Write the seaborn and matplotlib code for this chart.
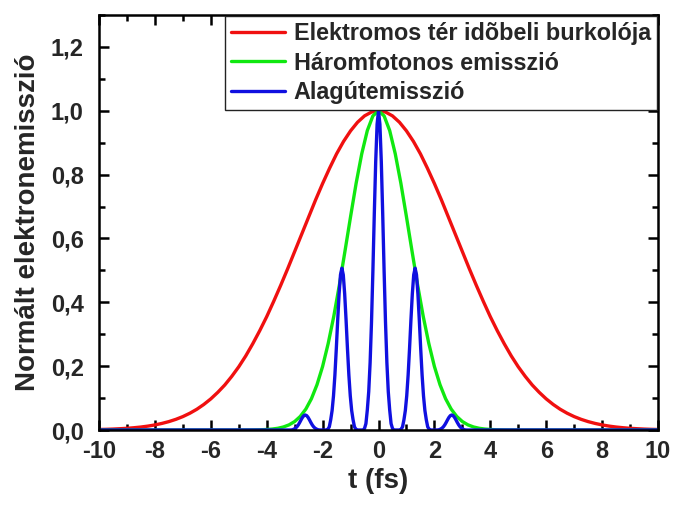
import matplotlib
matplotlib.use("Agg")
import matplotlib.pyplot as plt
from matplotlib.ticker import MultipleLocator, FuncFormatter
import seaborn as sns
import pandas as pd

# ---------------- data ----------------
red_t = [-10.0, -9.75, -9.5, -9.25, -9.0, -8.75, -8.5, -8.25, -8.0, -7.75, -7.5, -7.25,
         -7.0, -6.75, -6.5, -6.25, -6.0, -5.75, -5.5, -5.25, -5.0, -4.75, -4.5, -4.25,
         -4.0, -3.75, -3.5, -3.25, -3.0, -2.75, -2.5, -2.25, -2.0, -1.75, -1.5, -1.25,
         -1.0, -0.75, -0.5, -0.25, 0.0, 0.25, 0.5, 0.75, 1.0, 1.25, 1.5, 1.75, 2.0, 2.25,
         2.5, 2.75, 3.0, 3.25, 3.5, 3.75, 4.0, 4.25, 4.5, 4.75, 5.0, 5.25, 5.5, 5.75,
         6.0, 6.25, 6.5, 6.75, 7.0, 7.25, 7.5, 7.75, 8.0, 8.25, 8.5, 8.75, 9.0, 9.25,
         9.5, 9.75, 10.0]
red_y = [0.0016, 0.0021, 0.0029, 0.0040, 0.0053, 0.0071, 0.0093, 0.0122, 0.0159, 0.0206,
         0.0263, 0.0334, 0.042, 0.0525, 0.065, 0.080, 0.0975, 0.118, 0.141, 0.168, 0.198,
         0.232, 0.270, 0.311, 0.355, 0.403, 0.453, 0.505, 0.559, 0.613, 0.667, 0.721,
         0.772, 0.820, 0.865, 0.904, 0.937, 0.964, 0.984, 0.996, 1.000, 0.996, 0.984,
         0.964, 0.937, 0.904, 0.865, 0.820, 0.772, 0.721, 0.667, 0.613, 0.559, 0.505,
         0.453, 0.403, 0.355, 0.311, 0.270, 0.232, 0.198, 0.168, 0.141, 0.118, 0.0975,
         0.080, 0.065, 0.0525, 0.042, 0.0334, 0.0263, 0.0206, 0.0159, 0.0122, 0.0093,
         0.0071, 0.0053, 0.0040, 0.0029, 0.0021, 0.0016]

green_t = [-10.0, -5.0, -4.8, -4.6, -4.4, -4.2, -4.0, -3.8, -3.6, -3.4, -3.2, -3.0, -2.8,
           -2.6, -2.4, -2.2, -2.0, -1.8, -1.6, -1.4, -1.2, -1.0, -0.8, -0.6, -0.4, -0.2,
           0.0, 0.2, 0.4, 0.6, 0.8, 1.0, 1.2, 1.4, 1.6, 1.8, 2.0, 2.2, 2.4, 2.6, 2.8, 3.0,
           3.2, 3.4, 3.6, 3.8, 4.0, 4.2, 4.4, 4.6, 4.8, 5.0, 10.0]
green_y = [0.0, 0.0, 0.0001, 0.0002, 0.0004, 0.0008, 0.0016, 0.0030, 0.0054, 0.0095,
           0.0161, 0.0265, 0.0424, 0.0655, 0.098, 0.142, 0.199, 0.271, 0.356, 0.454,
           0.560, 0.668, 0.773, 0.865, 0.938, 0.984, 1.0, 0.984, 0.938, 0.865, 0.773,
           0.668, 0.560, 0.454, 0.356, 0.271, 0.199, 0.142, 0.098, 0.0655, 0.0424,
           0.0265, 0.0161, 0.0095, 0.0054, 0.0030, 0.0016, 0.0008, 0.0004, 0.0002,
           0.0001, 0.0, 0.0]

blue_t = [-10.0,
          -3.17, -3.12, -3.07, -3.02, -2.97, -2.92, -2.87, -2.82, -2.77, -2.72, -2.67, -2.62,
          -2.57, -2.52, -2.47, -2.42, -2.37, -2.32, -2.27, -2.22, -2.17, -2.12, -2.07,
          -1.86, -1.81, -1.76, -1.71, -1.66, -1.61, -1.56, -1.51, -1.46, -1.41, -1.36, -1.31,
          -1.26, -1.21, -1.16, -1.11, -1.06, -1.01, -0.96, -0.91, -0.86, -0.81, -0.76,
          -0.55, -0.50, -0.45, -0.40, -0.35, -0.30, -0.25, -0.20, -0.15, -0.10, -0.05, 0.00,
          0.05, 0.10, 0.15, 0.20, 0.25, 0.30, 0.35, 0.40, 0.45, 0.50, 0.55,
          0.76, 0.81, 0.86, 0.91, 0.96, 1.01, 1.06, 1.11, 1.16, 1.21, 1.26, 1.31,
          1.36, 1.41, 1.46, 1.51, 1.56, 1.61, 1.66, 1.71, 1.76, 1.81, 1.86,
          2.07, 2.12, 2.17, 2.22, 2.27, 2.32, 2.37, 2.42, 2.47, 2.52, 2.57, 2.62,
          2.67, 2.72, 2.77, 2.82, 2.87, 2.92, 2.97, 3.02, 3.07, 3.12, 3.17,
          10.0]
blue_y = [0.0,
          0.0, 0.0002, 0.0009, 0.003, 0.0056, 0.0099, 0.0159, 0.0235, 0.0319, 0.0395, 0.045, 0.047,
          0.045, 0.0395, 0.0319, 0.0235, 0.0159, 0.0099, 0.0056, 0.003, 0.0009, 0.0002, 0.0,
          0.0, 0.0025, 0.010, 0.032, 0.061, 0.107, 0.172, 0.254, 0.344, 0.426, 0.486, 0.507,
          0.486, 0.426, 0.344, 0.254, 0.172, 0.107, 0.061, 0.032, 0.010, 0.0025, 0.0,
          0.0, 0.005, 0.02, 0.063, 0.12, 0.211, 0.339, 0.5, 0.678, 0.841, 0.958, 1.0,
          0.958, 0.841, 0.678, 0.5, 0.339, 0.211, 0.12, 0.063, 0.02, 0.005, 0.0,
          0.0, 0.0025, 0.010, 0.032, 0.061, 0.107, 0.172, 0.254, 0.344, 0.426, 0.486, 0.507,
          0.486, 0.426, 0.344, 0.254, 0.172, 0.107, 0.061, 0.032, 0.010, 0.0025, 0.0,
          0.0, 0.0002, 0.0009, 0.003, 0.0056, 0.0099, 0.0159, 0.0235, 0.0319, 0.0395, 0.045, 0.047,
          0.045, 0.0395, 0.0319, 0.0235, 0.0159, 0.0099, 0.0056, 0.003, 0.0009, 0.0002, 0.0,
          0.0]

series_names = ["Elektromos tér idõbeli burkolója", "Háromfotonos emisszió", "Alagútemisszió"]
x_label = "t (fs)"
y_label = "Normált elektronemisszió"

# ---------------- style ----------------
sns.set_style("ticks")
plt.rcParams["font.family"] = ["Liberation Sans", "DejaVu Sans"]
plt.rcParams["font.weight"] = "bold"

fig = plt.figure(figsize=(6.73, 5.11), dpi=100)
ax = fig.add_axes([99 / 673, 81 / 511, (658 - 99) / 673, (430 - 15) / 511])

colors = ["#f01010", "#10e810", "#1010e0"]
dfs = [pd.DataFrame({"t": red_t, "y": red_y}),
       pd.DataFrame({"t": green_t, "y": green_y}),
       pd.DataFrame({"t": blue_t, "y": blue_y})]
for df, name, c in zip(dfs, series_names, colors):
    sns.lineplot(data=df, x="t", y="y", ax=ax, color=c, linewidth=2.4, label=name,
                 sort=False, estimator=None)

ax.set_xlim(-10, 10)
ax.set_ylim(0, 1.3)
ax.xaxis.set_major_locator(MultipleLocator(2))
ax.xaxis.set_minor_locator(MultipleLocator(1))
ax.yaxis.set_major_locator(MultipleLocator(0.2))
ax.yaxis.set_minor_locator(MultipleLocator(0.1))
ax.yaxis.set_major_formatter(FuncFormatter(lambda v, p: f"{v:.1f}".replace(".", ",")))
ax.xaxis.set_major_formatter(FuncFormatter(lambda v, p: f"{v:.0f}"))

for s in ax.spines.values():
    s.set_visible(True)
    s.set_linewidth(1.8)
    s.set_color("black")
ax.tick_params(which="both", direction="in", top=True, right=True, width=1.8, color="black")
ax.tick_params(which="major", length=7, labelsize=17)
ax.tick_params(axis="x", which="major", pad=7)
ax.tick_params(axis="y", which="major", pad=11)
ax.tick_params(which="minor", length=4)
for lab in ax.get_xticklabels() + ax.get_yticklabels():
    lab.set_fontweight("bold")

ax.set_xlabel(x_label, fontsize=20, fontweight="bold", labelpad=4)
ax.set_ylabel(y_label, fontsize=20, fontweight="bold", labelpad=7)

leg = ax.legend(loc="upper right", frameon=True, fancybox=False,
                borderpad=0.25, labelspacing=0.28, handlelength=2.3, handletextpad=0.4,
                borderaxespad=0.05, prop={"weight": "bold", "size": 16.8})
leg.get_frame().set_edgecolor("#222222")
leg.get_frame().set_linewidth(1.0)
leg.get_frame().set_alpha(1)

fig.savefig("out.png", dpi=100)
